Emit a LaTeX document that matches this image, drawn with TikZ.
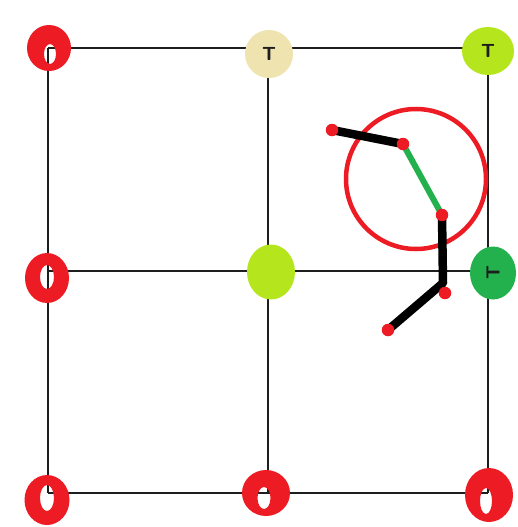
\documentclass[tikz,border=0pt]{standalone}
\usetikzlibrary{shapes.geometric}
\definecolor{pred}{RGB}{237,28,36}
\definecolor{pbeige}{RGB}{239,228,176}
\definecolor{plime}{RGB}{181,230,29}
\definecolor{pgreen}{RGB}{34,177,76}
\definecolor{pline}{RGB}{30,30,30}
\tikzset{
  gridline/.style={draw=pline, line width=1.6pt},
  blob/.style={ellipse, inner sep=0pt, draw=none, text=pline,
    font=\fontsize{19}{19}\selectfont\sffamily\bfseries},
  ring/.style={fill=pred, even odd rule},
  arm/.style={line width=8.5pt, black, line cap=round, line join=round},
  armg/.style={line width=6pt, pgreen, line cap=round},
  joint/.style={circle, fill=pred, inner sep=0pt, minimum size=12.5pt},
  bigring/.style={draw=pred, line width=4.5pt}
}
\begin{document}
\begin{tikzpicture}[x=1pt,y=-1pt]
\useasboundingbox (0,0) rectangle (517,527);
\fill[white] (0,0) rectangle (517,527);
% grid corners
\coordinate (g00) at (48,48);
\coordinate (g20) at (488,48);
\coordinate (g01) at (48,271);
\coordinate (g21) at (488,271);
\coordinate (g02) at (48,493);
\coordinate (g22) at (488,493);
\coordinate (g10) at (268,48);
\coordinate (g12) at (268,493);
\draw[gridline] (g00) -- (g20);
\draw[gridline] (g01) -- (g21);
\draw[gridline] (g02) -- (g22);
\draw[gridline] (g00) -- (g02);
\draw[gridline] (g10) -- (g12);
\draw[gridline] (g20) -- (g22);
% red rings
\path[ring] (49,48) ellipse[x radius=22,y radius=23] (50,54) ellipse[x radius=6,y radius=10];
\path[ring] (47,278) ellipse[x radius=22,y radius=25] (47,277) ellipse[x radius=7,y radius=12];
\path[ring] (47,500) ellipse[x radius=22.5,y radius=25] (47,498) ellipse[x radius=7,y radius=13];
\path[ring] (266,493) ellipse[x radius=24,y radius=23] (264,498) ellipse[x radius=6.5,y radius=11];
\path[ring] (489,495) ellipse[x radius=24,y radius=27] (486,501) ellipse[x radius=6,y radius=13];
% filled discs
\node[blob, fill=pbeige, minimum width=48pt, minimum height=48pt] (tm) at (269,54) {\raisebox{-1pt}{T}};
\node[blob, fill=plime, minimum width=52pt, minimum height=48pt] (tr) at (488,51) {\raisebox{-4pt}{T}};
\node[blob, fill=plime, minimum width=48pt, minimum height=55pt] (mm) at (271,272) {};
\node[blob, fill=pgreen, minimum width=46pt, minimum height=53pt] (mr) at (493,273) {\rotatebox{90}{T}};
% arm
\coordinate (p1) at (332,130);
\coordinate (p2) at (403,144);
\coordinate (p3) at (442,215);
\coordinate (pk) at (443,283);
\coordinate (p4) at (445,293);
\coordinate (p5) at (388,330);
\draw[bigring] (416,179) circle[radius=70];
\draw[arm] (p1) -- (p2);
\draw[arm] (p3) -- (pk) -- (p5);
\draw[armg] (p2) -- (p3);
\node[joint] (j1) at (p1) {};
\node[joint] (j2) at (p2) {};
\node[joint] (j3) at (p3) {};
\node[joint] (j4) at (p4) {};
\node[joint] (j5) at (p5) {};
\end{tikzpicture}
\end{document}
